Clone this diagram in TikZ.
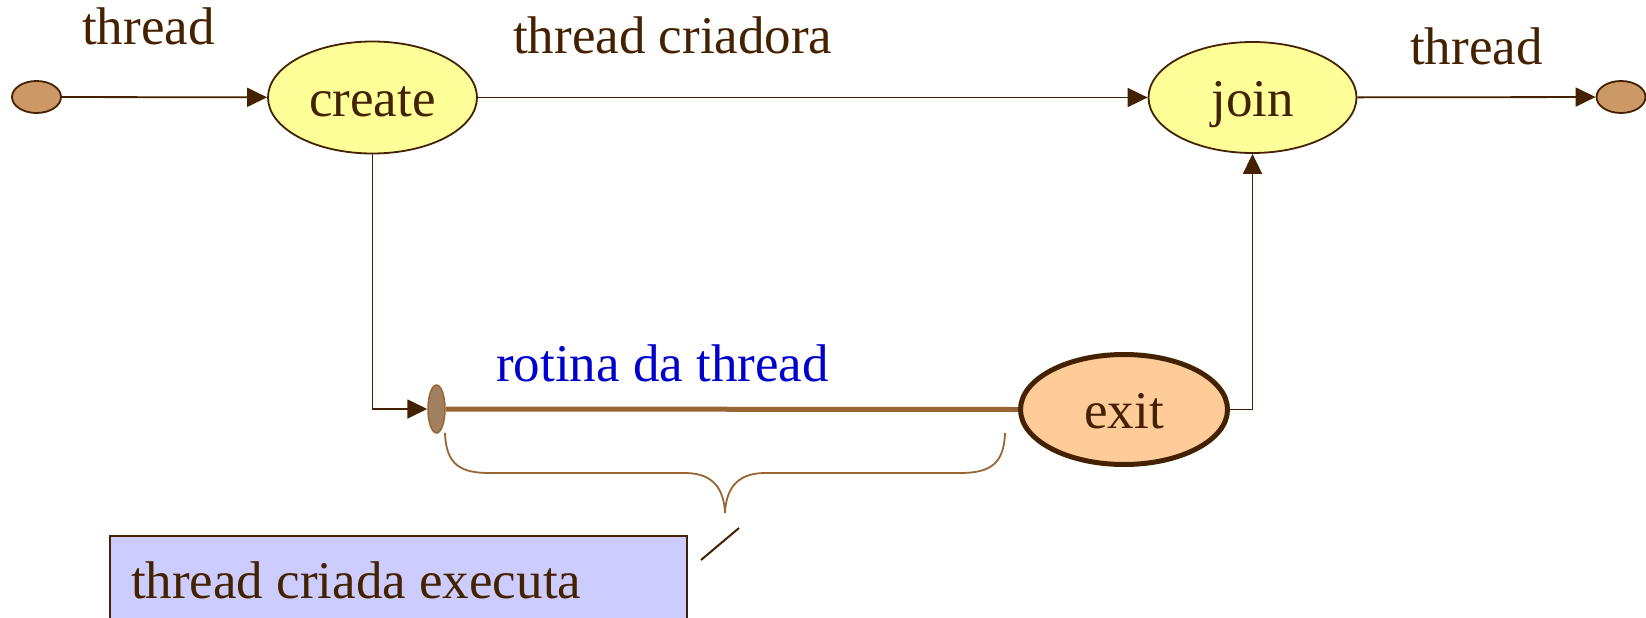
\documentclass[tikz,border=0pt]{standalone}
\usepackage{fontspec}
\setmainfont{Liberation Serif}
\usetikzlibrary{shapes.geometric,arrows.meta}
\definecolor{txt}{RGB}{68,34,0}
\definecolor{yel}{RGB}{255,255,153}
\definecolor{dotc}{RGB}{204,153,102}
\definecolor{startc}{RGB}{160,128,96}
\definecolor{rail}{RGB}{153,102,51}
\definecolor{exitc}{RGB}{255,204,153}
\definecolor{boxc}{RGB}{204,204,255}
\definecolor{blu}{RGB}{0,0,204}
\tikzset{
  big/.style={font=\fontsize{53}{60}\selectfont, text=txt},
  oval/.style={ellipse, draw=txt, line width=1.8pt, inner sep=0pt, big, text height=37.4pt, text depth=0pt},
  dotnode/.style={ellipse, draw=txt, fill=dotc, line width=1.8pt, inner sep=0pt, minimum width=49pt, minimum height=32pt},
  conn/.style={draw=txt, line width=1.8pt, -{Triangle[length=20pt,width=19pt]}},
  lbl/.style={big, anchor=base west, inner sep=0pt},
}
\begin{document}
\begin{tikzpicture}[x=1pt,y=-1pt]
\useasboundingbox (0,0) rectangle (1646,618);
\clip (0,0) rectangle (1646,618);
% nodes
\node[dotnode] (ldot) at (36.5,97) {};
\node[dotnode] (rdot) at (1621,97) {};
\node[oval, fill=yel, minimum width=209pt, minimum height=112pt] (create) at (372.5,97.5) {create};
\node[oval, fill=yel, minimum width=208pt, minimum height=111pt] (join) at (1252.5,97.5) {join};
\node[oval, fill=exitc, line width=5pt, minimum width=207pt, minimum height=110pt] (exit) at (1124,409.5) {exit};
\node[ellipse, draw=rail, fill=startc, line width=1.5pt, inner sep=0pt, minimum width=17pt, minimum height=48pt] (start) at (436.5,409) {};
% labels
\node[lbl] (l1) at (82,45) {thread};
\node[lbl] (l2) at (513,53) {thread criadora};
\node[lbl] (l3) at (1410,64) {thread};
\node[lbl, text=blu] (l4) at (496,381.7) {rotina da thread};
% box
\node[rectangle, draw=txt, fill=boxc, line width=2pt, anchor=north west, big,
      inner xsep=21.5pt, inner ysep=24.6pt,
      text height=37.4pt, text depth=0pt] (box) at (108.5,535) {\makebox[534.5pt][l]{thread criada executa}};
% connectors
\draw[conn] (ldot) -- (create);
\draw[conn] (create) -- (join);
\draw[conn] (join) -- (rdot);
\draw[conn] (create.south) |- (start.west);
\draw[conn] (exit.east) -| (join.south);
\draw[draw=rail, line width=5pt] (start.east) -- (exit.west);
% brace
\draw[draw=rail, line width=1.8pt] (445,433) .. controls (446,466) and (462,473) .. (490,473) -- (685,473)
  .. controls (714,473) and (724,490) .. (725,513)
  .. controls (726,490) and (736,473) .. (765,473) -- (960,473)
  .. controls (990,473) and (1004,464) .. (1005,433);
% callout stroke
\coordinate (s1) at (701,560);
\coordinate (s2) at (739,528);
\draw[draw=txt, line width=2pt] (s1) -- (s2);
\end{tikzpicture}
\end{document}
